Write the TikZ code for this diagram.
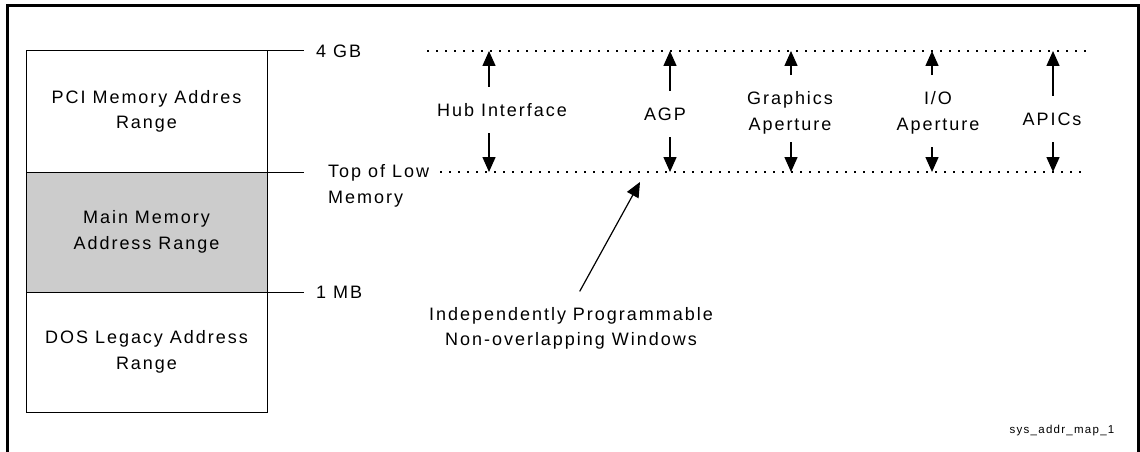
\documentclass[tikz,border=0pt]{standalone}
\usepackage{fontspec}
\setmainfont{Liberation Sans}[LetterSpace=11]
\usetikzlibrary{arrows.meta,positioning}
\newcommand{\labfont}{\fontsize{18}{25.5}\selectfont}
\newcommand{\tagfont}{\fontsize{11.5}{13}\selectfont}
\tikzset{
	membox/.style={draw, line width=1pt, minimum width=241pt, minimum height=120pt,
		inner sep=0pt, outer sep=0pt, align=center},
	tick/.style={line width=1pt, shorten >=12pt},
	dotline/.style={line width=1.1pt, dash pattern=on 2pt off 7pt},
	win/.style={line width=1.5pt, -{Triangle[length=15pt,width=13pt]}, shorten <=16.5pt},
	lbl/.style={inner sep=0pt, align=center}
}

\begin{document}
\begin{tikzpicture}[x=1pt, y=-1pt, every node/.style={font=\labfont}]
		\useasboundingbox (0,0) rectangle (1140,452);
		% frame
		\draw[line width=3pt] (7,452) -- (7,5.5) -- (1138.5,5.5) -- (1138.5,452);

		% memory map
		\node[membox, minimum height=121pt] (pci) at (146.5,111.5) {PCI Memory Addres\\Range};
		\node[membox, fill=black!20, below=0pt of pci] (main) {Main Memory\\Address Range};
		\node[membox, below=0pt of main] (dos) {DOS Legacy Address\\Range};

		\node[lbl, anchor=west] (gb4) at (316,51) {4 GB};
		\node[lbl, anchor=north west, align=left] (toplow) at (328,164.5) {Top of Low\\Memory};
		\node[lbl, anchor=west] (mb1) at (316,292) {1 MB};

		\draw[tick] (pci.north east) -- (gb4.west);
		\draw[tick] (main.north east) -- (main.north east -| mb1.west);
		\draw[tick] (dos.north east) -- (mb1.west);

		% address limits
		\coordinate (hiL) at (427,51);
		\coordinate (hiR) at (1087,51);
		\coordinate (loL) at (440,172);
		\coordinate (loR) at (1087,172);
		\draw[dotline] (hiL) -- (hiR);
		\draw[dotline] (loL) -- (loR);

		% windows
		\node[lbl] (hub) at (502,110) {Hub Interface};
		\coordinate (hubT) at (489,51);
		\coordinate (hubB) at (489,172);
		\draw[win] (hub.north -| hubT) -- (hubT);
		\draw[win] (hub.south -| hubB) -- (hubB);

		\node[lbl] (agp) at (665,114) {AGP};
		\coordinate (agpT) at (670,51);
		\coordinate (agpB) at (670,172);
		\draw[win] (agp.north -| agpT) -- (agpT);
		\draw[win] (agp.south -| agpB) -- (agpB);

		\node[lbl] (gfx) at (790,113) {Graphics\\Aperture};
		\coordinate (gfxT) at (791,51);
		\coordinate (gfxB) at (791,172);
		\draw[win] (gfx.north -| gfxT) -- (gfxT);
		\draw[win, shorten <=8pt] (gfx.south -| gfxB) -- (gfxB);

		\node[lbl] (io) at (938,113) {I/O\\Aperture};
		\coordinate (ioT) at (932,51);
		\coordinate (ioB) at (932,172);
		\draw[win] (io.north -| ioT) -- (ioT);
		\draw[win, shorten <=13pt] (io.south -| ioB) -- (ioB);

		\node[lbl] (apic) at (1052,119) {APICs};
		\coordinate (apicT) at (1053,51);
		\coordinate (apicB) at (1053,172);
		\draw[win] (apic.north -| apicT) -- (apicT);
		\draw[win] (apic.south -| apicB) -- (apicB);

		% pointer to the windows
		\node[lbl] (indep) at (571,328.5) {Independently Programmable\\Non-overlapping Windows};
		\coordinate (winpt) at (640,182);
		\draw[win, line width=1.2pt, shorten <=18pt] (indep.north) -- (winpt);

		\node[lbl, font=\tagfont] (tag) at (1062,431) {sys\_addr\_map\_1};
\end{tikzpicture}
\end{document}
